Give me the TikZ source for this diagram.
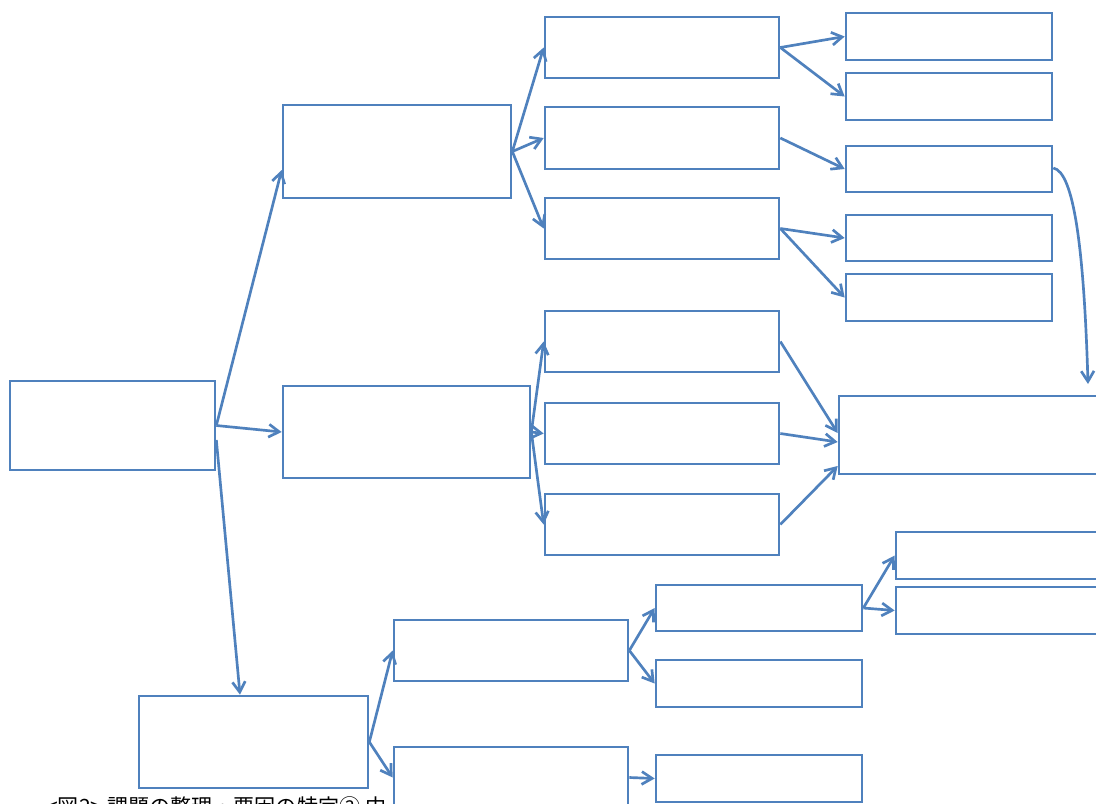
\documentclass[tikz,border=0pt]{standalone}
\usepackage{fontspec}
\newfontfamily\cjk{Noto Sans CJK JP}
\usetikzlibrary{arrows.meta, fit, shadows}
\definecolor{officeblue}{HTML}{4F81BD}

\begin{document}
\begin{tikzpicture}[
  x=0.025cm, y=-0.025cm,
  box/.style={rectangle, draw=officeblue, fill=white, line width=1.9pt,
              inner sep=0pt,
              drop shadow={shadow xshift=0.8pt, shadow yshift=-1pt, opacity=0.25}},
  arr/.style={-{Straight Barb[length=2.6mm, width=3.2mm]}, line width=1.9pt,
              color=officeblue}
]
\useasboundingbox (0,0) rectangle (1096,803);
% Caption (cut off by the page)
\node[anchor=north west, inner sep=0pt, font=\cjk\fontsize{15pt}{17pt}\selectfont]
  (caption) at (46,796) {<図2> 課題の整理・要因の特定② 中};
% Root
\node[box, fit={(10,381) (215,470)}] (A) {};
% First level
\node[box, fit={(283,105) (511,198)}] (B1) {};
\node[box, fit={(283,386) (530,478)}] (B2) {};
\node[box, fit={(139,696) (368,788)}] (B3) {};
% Second level
\node[box, fit={(545,17) (779,78)}] (C1) {};
\node[box, fit={(545,107) (779,169)}] (C2) {};
\node[box, fit={(545,198) (779,259)}] (C3) {};
\node[box, fit={(545,311) (779,372)}] (C4) {};
\node[box, fit={(545,403) (779,464)}] (C5) {};
\node[box, fit={(545,494) (779,555)}] (C6) {};
\node[box, fit={(394,620) (628,681)}] (D1) {};
\node[box, fit={(394,747) (628,808)}] (D2) {};
% Third level
\node[box, fit={(846,13) (1052,60)}] (E1) {};
\node[box, fit={(846,73) (1052,120)}] (E2) {};
\node[box, fit={(846,146) (1052,192)}] (E3) {};
\node[box, fit={(846,215) (1052,261)}] (E4) {};
\node[box, fit={(846,274) (1052,321)}] (E5) {};
\node[box, fit={(839,396) (1110,474)}] (F) {};
\node[box, fit={(656,585) (862,631)}] (G1) {};
\node[box, fit={(656,660) (862,707)}] (G2) {};
\node[box, fit={(656,755) (862,802)}] (G3) {};
\node[box, fit={(896,532) (1110,579)}] (H1) {};
\node[box, fit={(896,587) (1110,634)}] (H2) {};
\coordinate (tipF) at (1088,384);

% Arrows
\draw[arr] (A.east) -- (B1.west |- 0,170);
\draw[arr] (A.east) -- (B2.west);
\draw[arr] (A.east |- 0,440) -- (B3.north -| 240,0);
\draw[arr] (B1.east) -- (C1.west); \draw[arr] (B1.east) -- (C2.west);
\draw[arr] (B1.east) -- (C3.west);
\draw[arr] (B2.east) -- (C4.west); \draw[arr] (B2.east) -- (C5.west);
\draw[arr] (B2.east) -- (C6.west);
\draw[arr] (C1.east) -- (E1.west); \draw[arr] (C1.east) -- (E2.west);
\draw[arr] (C2.east) -- (E3.west);
\draw[arr] (C3.east) -- (E4.west); \draw[arr] (C3.east) -- (E5.west);
\draw[arr] (C4.east) -- (F.west |- 0,433);
\draw[arr] (C5.east) -- (F.west |- 0,442);
\draw[arr] (C6.east) -- (F.west |- 0,466);
\draw[arr] (E3.east |- 0,168) .. controls (1074,172) and (1084,250) .. (tipF);
\draw[arr] (B3.east) -- (D1.west); \draw[arr] (B3.east) -- (D2.west);
\draw[arr] (D1.east) -- (G1.west); \draw[arr] (D1.east) -- (G2.west);
\draw[arr] (D2.east) -- (G3.west);
\draw[arr] (G1.east) -- (H1.west); \draw[arr] (G1.east) -- (H2.west);
\end{tikzpicture}
\end{document}
